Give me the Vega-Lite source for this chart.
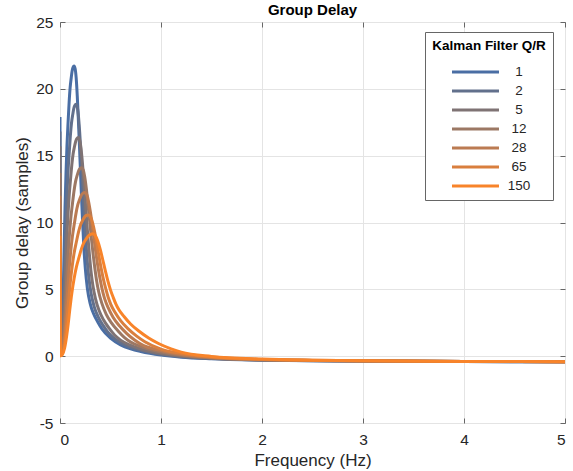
{
"$schema": "https://vega.github.io/schema/vega-lite/v6.json",
"width": 505, "height": 401,
"autosize": "none",
"padding": {"left": 60, "top": 22, "right": 8, "bottom": 48},
"background": "white",
"title": {"text": "Group Delay", "font": "Liberation Sans", "fontSize": 15, "fontWeight": "bold", "color": "#000000", "offset": -3, "anchor": "middle"},
"config": {"view": {"stroke": "#666666", "strokeWidth": 1}, "font": "Liberation Sans"},
"datasets": {"gd": [
{"qr":"1","f":0,"gd":17.9},{"qr":"1","f":0.006,"gd":0.1},{"qr":"1","f":0.0097,"gd":0.28},{"qr":"1","f":0.0195,"gd":1.41},{"qr":"1","f":0.0278,"gd":3.47},{"qr":"1","f":0.0348,"gd":5.75},{"qr":"1","f":0.0417,"gd":8.35},{"qr":"1","f":0.05,"gd":11.18},{"qr":"1","f":0.0598,"gd":13.78},{"qr":"1","f":0.0695,"gd":15.84},{"qr":"1","f":0.0806,"gd":17.58},{"qr":"1","f":0.0904,"gd":18.99},{"qr":"1","f":0.1001,"gd":20.07},{"qr":"1","f":0.1112,"gd":20.83},{"qr":"1","f":0.1209,"gd":21.37},{"qr":"1","f":0.1293,"gd":21.61},{"qr":"1","f":0.139,"gd":21.7},{"qr":"1","f":0.1501,"gd":21.5},{"qr":"1","f":0.1599,"gd":20.83},{"qr":"1","f":0.171,"gd":19.46},{"qr":"1","f":0.1807,"gd":17.88},{"qr":"1","f":0.1918,"gd":15.91},{"qr":"1","f":0.2029,"gd":13.78},{"qr":"1","f":0.2141,"gd":11.72},{"qr":"1","f":0.2252,"gd":9.81},{"qr":"1","f":0.2363,"gd":8.14},{"qr":"1","f":0.2502,"gd":6.6},{"qr":"1","f":0.2711,"gd":5.06},{"qr":"1","f":0.2989,"gd":3.93},{"qr":"1","f":0.3336,"gd":3.15},{"qr":"1","f":0.3753,"gd":2.54},{"qr":"1","f":0.417,"gd":2.02},{"qr":"1","f":0.5,"gd":1.35},{"qr":"1","f":0.6,"gd":0.85},{"qr":"1","f":0.7,"gd":0.55},{"qr":"1","f":0.8,"gd":0.35},{"qr":"1","f":1,"gd":0.08},{"qr":"1","f":1.2,"gd":-0.08},{"qr":"1","f":1.5,"gd":-0.2},{"qr":"1","f":2,"gd":-0.3},{"qr":"1","f":2.5,"gd":-0.34},{"qr":"1","f":3,"gd":-0.37},{"qr":"1","f":4,"gd":-0.4},{"qr":"1","f":5,"gd":-0.42},
{"qr":"2","f":0,"gd":16.8},{"qr":"2","f":0.006,"gd":0.08},{"qr":"2","f":0.0111,"gd":0.24},{"qr":"2","f":0.0221,"gd":1.22},{"qr":"2","f":0.0316,"gd":3.01},{"qr":"2","f":0.0395,"gd":4.99},{"qr":"2","f":0.0474,"gd":7.25},{"qr":"2","f":0.0569,"gd":9.7},{"qr":"2","f":0.0679,"gd":11.96},{"qr":"2","f":0.079,"gd":13.75},{"qr":"2","f":0.0916,"gd":15.26},{"qr":"2","f":0.1027,"gd":16.49},{"qr":"2","f":0.1138,"gd":17.43},{"qr":"2","f":0.1264,"gd":18.09},{"qr":"2","f":0.1375,"gd":18.56},{"qr":"2","f":0.1469,"gd":18.76},{"qr":"2","f":0.158,"gd":18.84},{"qr":"2","f":0.1706,"gd":18.65},{"qr":"2","f":0.1817,"gd":18.03},{"qr":"2","f":0.1943,"gd":16.81},{"qr":"2","f":0.2054,"gd":15.42},{"qr":"2","f":0.218,"gd":13.71},{"qr":"2","f":0.2307,"gd":11.89},{"qr":"2","f":0.2433,"gd":10.17},{"qr":"2","f":0.256,"gd":8.61},{"qr":"2","f":0.2686,"gd":7.23},{"qr":"2","f":0.2844,"gd":5.96},{"qr":"2","f":0.3081,"gd":4.68},{"qr":"2","f":0.3397,"gd":3.67},{"qr":"2","f":0.3792,"gd":2.92},{"qr":"2","f":0.4266,"gd":2.3},{"qr":"2","f":0.474,"gd":1.79},{"qr":"2","f":0.53,"gd":1.37},{"qr":"2","f":0.6,"gd":1.01},{"qr":"2","f":0.7,"gd":0.66},{"qr":"2","f":0.8,"gd":0.44},{"qr":"2","f":1,"gd":0.14},{"qr":"2","f":1.2,"gd":-0.03},{"qr":"2","f":1.5,"gd":-0.18},{"qr":"2","f":2,"gd":-0.29},{"qr":"2","f":2.5,"gd":-0.335},{"qr":"2","f":3,"gd":-0.365},{"qr":"2","f":4,"gd":-0.4},{"qr":"2","f":5,"gd":-0.42},
{"qr":"5","f":0,"gd":15.7},{"qr":"5","f":0.006,"gd":0.07},{"qr":"5","f":0.0126,"gd":0.21},{"qr":"5","f":0.0252,"gd":1.06},{"qr":"5","f":0.036,"gd":2.62},{"qr":"5","f":0.045,"gd":4.33},{"qr":"5","f":0.054,"gd":6.29},{"qr":"5","f":0.0648,"gd":8.42},{"qr":"5","f":0.0774,"gd":10.38},{"qr":"5","f":0.09,"gd":11.94},{"qr":"5","f":0.1044,"gd":13.24},{"qr":"5","f":0.117,"gd":14.31},{"qr":"5","f":0.1296,"gd":15.12},{"qr":"5","f":0.144,"gd":15.7},{"qr":"5","f":0.1566,"gd":16.1},{"qr":"5","f":0.1674,"gd":16.28},{"qr":"5","f":0.18,"gd":16.35},{"qr":"5","f":0.1944,"gd":16.17},{"qr":"5","f":0.207,"gd":15.6},{"qr":"5","f":0.2214,"gd":14.51},{"qr":"5","f":0.234,"gd":13.29},{"qr":"5","f":0.2484,"gd":11.8},{"qr":"5","f":0.2628,"gd":10.26},{"qr":"5","f":0.2772,"gd":8.83},{"qr":"5","f":0.2916,"gd":7.55},{"qr":"5","f":0.306,"gd":6.42},{"qr":"5","f":0.324,"gd":5.37},{"qr":"5","f":0.351,"gd":4.31},{"qr":"5","f":0.387,"gd":3.41},{"qr":"5","f":0.432,"gd":2.7},{"qr":"5","f":0.486,"gd":2.09},{"qr":"5","f":0.54,"gd":1.58},{"qr":"5","f":0.6,"gd":1.2},{"qr":"5","f":0.7,"gd":0.8},{"qr":"5","f":0.8,"gd":0.54},{"qr":"5","f":1,"gd":0.2},{"qr":"5","f":1.2,"gd":0},{"qr":"5","f":1.5,"gd":-0.16},{"qr":"5","f":2,"gd":-0.28},{"qr":"5","f":2.5,"gd":-0.33},{"qr":"5","f":3,"gd":-0.36},{"qr":"5","f":4,"gd":-0.395},{"qr":"5","f":5,"gd":-0.415},
{"qr":"12","f":0,"gd":13.7},{"qr":"12","f":0.006,"gd":0.06},{"qr":"12","f":0.0149,"gd":0.18},{"qr":"12","f":0.0298,"gd":0.92},{"qr":"12","f":0.0426,"gd":2.26},{"qr":"12","f":0.0533,"gd":3.74},{"qr":"12","f":0.0639,"gd":5.43},{"qr":"12","f":0.0767,"gd":7.26},{"qr":"12","f":0.0916,"gd":8.95},{"qr":"12","f":0.1065,"gd":10.29},{"qr":"12","f":0.1235,"gd":11.42},{"qr":"12","f":0.1385,"gd":12.34},{"qr":"12","f":0.1534,"gd":13.04},{"qr":"12","f":0.1704,"gd":13.54},{"qr":"12","f":0.1853,"gd":13.89},{"qr":"12","f":0.1981,"gd":14.04},{"qr":"12","f":0.213,"gd":14.1},{"qr":"12","f":0.23,"gd":13.92},{"qr":"12","f":0.245,"gd":13.41},{"qr":"12","f":0.262,"gd":12.45},{"qr":"12","f":0.2769,"gd":11.38},{"qr":"12","f":0.2939,"gd":10.1},{"qr":"12","f":0.311,"gd":8.8},{"qr":"12","f":0.328,"gd":7.61},{"qr":"12","f":0.3451,"gd":6.58},{"qr":"12","f":0.3621,"gd":5.66},{"qr":"12","f":0.3834,"gd":4.8},{"qr":"12","f":0.4154,"gd":3.93},{"qr":"12","f":0.458,"gd":3.13},{"qr":"12","f":0.5112,"gd":2.47},{"qr":"12","f":0.5751,"gd":1.88},{"qr":"12","f":0.639,"gd":1.39},{"qr":"12","f":0.7,"gd":1.05},{"qr":"12","f":0.8,"gd":0.72},{"qr":"12","f":1,"gd":0.31},{"qr":"12","f":1.2,"gd":0.06},{"qr":"12","f":1.5,"gd":-0.13},{"qr":"12","f":2,"gd":-0.27},{"qr":"12","f":2.5,"gd":-0.32},{"qr":"12","f":3,"gd":-0.355},{"qr":"12","f":4,"gd":-0.395},{"qr":"12","f":5,"gd":-0.415},
{"qr":"28","f":0,"gd":12.0},{"qr":"28","f":0.006,"gd":0.05},{"qr":"28","f":0.0172,"gd":0.16},{"qr":"28","f":0.0343,"gd":0.8},{"qr":"28","f":0.049,"gd":1.96},{"qr":"28","f":0.0613,"gd":3.25},{"qr":"28","f":0.0735,"gd":4.72},{"qr":"28","f":0.0882,"gd":6.31},{"qr":"28","f":0.1054,"gd":7.78},{"qr":"28","f":0.1225,"gd":8.94},{"qr":"28","f":0.1421,"gd":9.92},{"qr":"28","f":0.1593,"gd":10.72},{"qr":"28","f":0.1764,"gd":11.33},{"qr":"28","f":0.196,"gd":11.76},{"qr":"28","f":0.2132,"gd":12.07},{"qr":"28","f":0.2279,"gd":12.2},{"qr":"28","f":0.245,"gd":12.25},{"qr":"28","f":0.2646,"gd":12.08},{"qr":"28","f":0.2818,"gd":11.61},{"qr":"28","f":0.3014,"gd":10.76},{"qr":"28","f":0.3185,"gd":9.82},{"qr":"28","f":0.3381,"gd":8.71},{"qr":"28","f":0.3577,"gd":7.6},{"qr":"28","f":0.3773,"gd":6.62},{"qr":"28","f":0.3969,"gd":5.77},{"qr":"28","f":0.4165,"gd":5.03},{"qr":"28","f":0.441,"gd":4.32},{"qr":"28","f":0.4778,"gd":3.61},{"qr":"28","f":0.5268,"gd":2.89},{"qr":"28","f":0.588,"gd":2.27},{"qr":"28","f":0.6615,"gd":1.69},{"qr":"28","f":0.735,"gd":1.23},{"qr":"28","f":0.8,"gd":0.9},{"qr":"28","f":1,"gd":0.42},{"qr":"28","f":1.2,"gd":0.13},{"qr":"28","f":1.5,"gd":-0.1},{"qr":"28","f":2,"gd":-0.25},{"qr":"28","f":2.5,"gd":-0.315},{"qr":"28","f":3,"gd":-0.35},{"qr":"28","f":4,"gd":-0.39},{"qr":"28","f":5,"gd":-0.41},
{"qr":"65","f":0,"gd":10.2},{"qr":"65","f":0.006,"gd":0.04},{"qr":"65","f":0.0196,"gd":0.14},{"qr":"65","f":0.0392,"gd":0.69},{"qr":"65","f":0.056,"gd":1.69},{"qr":"65","f":0.07,"gd":2.8},{"qr":"65","f":0.084,"gd":4.07},{"qr":"65","f":0.1008,"gd":5.44},{"qr":"65","f":0.1204,"gd":6.71},{"qr":"65","f":0.14,"gd":7.72},{"qr":"65","f":0.1624,"gd":8.56},{"qr":"65","f":0.182,"gd":9.25},{"qr":"65","f":0.2016,"gd":9.78},{"qr":"65","f":0.224,"gd":10.15},{"qr":"65","f":0.2436,"gd":10.41},{"qr":"65","f":0.2604,"gd":10.53},{"qr":"65","f":0.28,"gd":10.57},{"qr":"65","f":0.3024,"gd":10.41},{"qr":"65","f":0.322,"gd":9.99},{"qr":"65","f":0.3444,"gd":9.24},{"qr":"65","f":0.364,"gd":8.41},{"qr":"65","f":0.3864,"gd":7.46},{"qr":"65","f":0.4088,"gd":6.52},{"qr":"65","f":0.4312,"gd":5.71},{"qr":"65","f":0.4536,"gd":5.03},{"qr":"65","f":0.476,"gd":4.43},{"qr":"65","f":0.504,"gd":3.86},{"qr":"65","f":0.546,"gd":3.27},{"qr":"65","f":0.602,"gd":2.64},{"qr":"65","f":0.672,"gd":2.06},{"qr":"65","f":0.756,"gd":1.52},{"qr":"65","f":0.84,"gd":1.08},{"qr":"65","f":1,"gd":0.53},{"qr":"65","f":1.2,"gd":0.2},{"qr":"65","f":1.5,"gd":-0.06},{"qr":"65","f":2,"gd":-0.24},{"qr":"65","f":2.5,"gd":-0.31},{"qr":"65","f":3,"gd":-0.345},{"qr":"65","f":4,"gd":-0.39},{"qr":"65","f":5,"gd":-0.41},
{"qr":"150","f":0,"gd":9.0},{"qr":"150","f":0.006,"gd":0.03},{"qr":"150","f":0.0228,"gd":0.12},{"qr":"150","f":0.0455,"gd":0.59},{"qr":"150","f":0.065,"gd":1.46},{"qr":"150","f":0.0813,"gd":2.42},{"qr":"150","f":0.0975,"gd":3.52},{"qr":"150","f":0.117,"gd":4.71},{"qr":"150","f":0.1398,"gd":5.81},{"qr":"150","f":0.1625,"gd":6.68},{"qr":"150","f":0.1885,"gd":7.41},{"qr":"150","f":0.2113,"gd":8.01},{"qr":"150","f":0.234,"gd":8.46},{"qr":"150","f":0.26,"gd":8.78},{"qr":"150","f":0.2828,"gd":9.01},{"qr":"150","f":0.3023,"gd":9.11},{"qr":"150","f":0.325,"gd":9.15},{"qr":"150","f":0.351,"gd":9.0},{"qr":"150","f":0.3738,"gd":8.62},{"qr":"150","f":0.3998,"gd":7.95},{"qr":"150","f":0.4225,"gd":7.23},{"qr":"150","f":0.4485,"gd":6.4},{"qr":"150","f":0.4745,"gd":5.61},{"qr":"150","f":0.5005,"gd":4.94},{"qr":"150","f":0.5265,"gd":4.4},{"qr":"150","f":0.5525,"gd":3.92},{"qr":"150","f":0.585,"gd":3.45},{"qr":"150","f":0.6338,"gd":2.97},{"qr":"150","f":0.6988,"gd":2.41},{"qr":"150","f":0.78,"gd":1.88},{"qr":"150","f":0.8775,"gd":1.36},{"qr":"150","f":0.975,"gd":0.95},{"qr":"150","f":1.1,"gd":0.55},{"qr":"150","f":1.2,"gd":0.3},{"qr":"150","f":1.5,"gd":-0.02},{"qr":"150","f":2,"gd":-0.22},{"qr":"150","f":2.5,"gd":-0.3},{"qr":"150","f":3,"gd":-0.34},{"qr":"150","f":4,"gd":-0.39},{"qr":"150","f":5,"gd":-0.41}
]},
"data": {"name": "gd"},
"resolve": {"axis": {"x": "independent", "y": "independent"}},
"layer": [
{
"mark": {"type": "line", "strokeWidth": 3, "interpolate": "monotone", "clip": true},
"encoding": {
  "x": {"field": "f", "type": "quantitative", "scale": {"domain": [0, 5], "nice": false, "zero": false},
    "axis": {"title": "Frequency (Hz)", "values": [0, 1, 2, 3, 4, 5], "labelExpr": "'' + datum.value", "grid": true, "gridColor": "#e4e4e4", "domain": false, "tickColor": "#666666", "tickSize": -5, "labelPadding": 14, "labelFont": "Liberation Sans", "labelFontSize": 15.5, "labelColor": "#262626", "titleFont": "Liberation Sans", "titleFontSize": 17, "titleFontWeight": "normal", "titleColor": "#262626", "titlePadding": 5}},
  "y": {"field": "gd", "type": "quantitative", "scale": {"domain": [-5, 25], "nice": false, "zero": false},
    "axis": {"title": "Group delay (samples)", "values": [-5, 0, 5, 10, 15, 20, 25], "labelExpr": "'' + datum.value", "grid": true, "gridColor": "#e4e4e4", "domain": false, "tickColor": "#666666", "tickSize": -5, "labelPadding": 12, "labelFont": "Liberation Sans", "labelFontSize": 15.5, "labelColor": "#262626", "titleFont": "Liberation Sans", "titleFontSize": 17, "titleFontWeight": "normal", "titleColor": "#262626", "titlePadding": 4}},
  "color": {"field": "qr", "type": "nominal",
    "scale": {"domain": ["1", "2", "5", "12", "28", "65", "150"], "range": ["#4a6ea4", "#62708c", "#7f7374", "#9c7864", "#bb7b52", "#d97f3e", "#f8842a"]},
    "legend": {"title": "Kalman Filter Q/R", "orient": "none", "legendX": 365, "legendY": 10, "direction": "vertical",
      "titleFont": "Liberation Sans", "titleFontSize": 13.5, "titleFontWeight": "bold", "titleColor": "#000000", "titleAnchor": "middle", "titlePadding": 12,
      "labelFont": "Liberation Sans", "labelFontSize": 13.5, "labelColor": "#262626", "labelAlign": "center",
      "symbolType": "M-4,0H4", "symbolSize": 138, "symbolStrokeWidth": 3, "symbolOffset": 20, "labelOffset": 36,
      "strokeColor": "#666666", "fillColor": "white", "padding": 7, "rowPadding": 5}}
}
},
{
"mark": {"type": "line", "opacity": 0},
"encoding": {
  "x": {"field": "f", "type": "quantitative", "axis": {"orient": "top", "values": [0, 1, 2, 3, 4, 5], "labels": false, "title": null, "grid": false, "domain": false, "tickColor": "#666666", "tickSize": -5}},
  "y": {"field": "gd", "type": "quantitative", "axis": {"orient": "right", "values": [-5, 0, 5, 10, 15, 20, 25], "labels": false, "title": null, "grid": false, "domain": false, "tickColor": "#666666", "tickSize": -5}},
  "detail": {"field": "qr"}
}
}
]
}
